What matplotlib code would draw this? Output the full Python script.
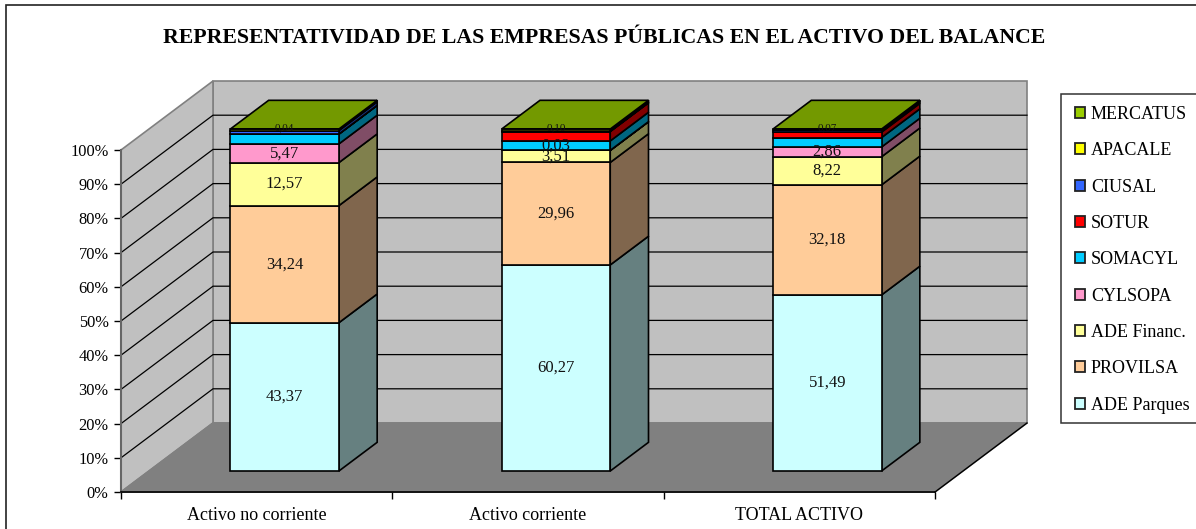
import matplotlib
matplotlib.use("Agg")
import matplotlib.pyplot as plt
from matplotlib.colors import to_rgb
from matplotlib.patches import Polygon, Rectangle

plt.rcParams['font.family'] = ['Liberation Serif', 'DejaVu Serif']

title = 'REPRESENTATIVIDAD DE LAS EMPRESAS PÚBLICAS EN EL ACTIVO DEL BALANCE'
categories = ['Activo no corriente', 'Activo corriente', 'TOTAL ACTIVO']
series_names = ['ADE Parques', 'PROVILSA', 'ADE Financ.', 'CYLSOPA', 'SOMACYL',
                'SOTUR', 'CIUSAL', 'APACALE', 'MERCATUS']

ade_parques = [43.37, 60.27, 51.49]
provilsa = [34.24, 29.96, 32.18]
ade_financ = [12.57, 3.51, 8.22]
cylsopa = [5.47, 0.03, 2.86]
somacyl = [2.85, 2.75, 2.75]
sotur = [0.05, 2.75, 1.60]
ciusal = [1.00, 0.10, 0.50]
apacale = [0.41, 0.53, 0.33]
mercatus = [0.04, 0.10, 0.07]
series_values = [ade_parques, provilsa, ade_financ, cylsopa, somacyl,
                 sotur, ciusal, apacale, mercatus]
series_colors = ['#CCFFFF', '#FFCC99', '#FFFF99', '#FF99CC', '#00CCFF',
                 '#FF0000', '#3366FF', '#FFFF00', '#99CC00']
labelled = ['ADE Parques', 'PROVILSA', 'ADE Financ.', 'CYLSOPA', 'MERCATUS']

W, H = 1196, 529
# front plane of the 3D box, in pixels
LEFT, RIGHT, BOTTOM, TOP = 121, 935, 492, 150
DEPTH_X = 92 / ((RIGHT - LEFT) / 3)   # category units for the full floor depth
DEPTH_Y = 69 / ((BOTTOM - TOP) / 100)  # percent units for the full floor depth
BAR_W = 0.40
BAR_D0, BAR_D1 = 0.304, 0.72


def pt(x, v, d):
    """Oblique projection of (category position, percent, depth)"""
    return (x + d * DEPTH_X, v + d * DEPTH_Y)


def shade(color, k):
    return tuple(c * k for c in to_rgb(color))


fig = plt.figure(figsize=(W / 100, H / 100), dpi=100)
# chart frame, only its left and top edges fall inside the picture
fig.add_artist(Rectangle((5.5 / W, -0.1), 1.2, 1.1 - 5 / H, transform=fig.transFigure,
                         fill=False, ec='#222222', lw=1.2))
# legend frame, its right edge falls outside as well
fig.add_artist(Rectangle((1061 / W, 1 - 423 / H), 0.2, 329 / H, transform=fig.transFigure,
                         fc='white', ec='#333333', lw=1.1))
ax = fig.add_axes([LEFT / W, 1 - BOTTOM / H, (RIGHT - LEFT) / W, (BOTTOM - TOP) / H])
ax.set_xlim(0, 3)
ax.set_ylim(0, 100)
ax.patch.set_visible(False)
for side in ['top', 'right']:
    ax.spines[side].set_visible(False)
ax.spines['left'].set_color('#666666')
ax.spines['left'].set_linewidth(1.5)
ax.spines['bottom'].set_color('black')
ax.spines['bottom'].set_linewidth(1.2)

# walls and floor
wall_kw = dict(clip_on=False, ec='#808080', lw=1.2, zorder=1)
ax.add_patch(Polygon([pt(0, 0, 1), pt(3, 0, 1), pt(3, 100, 1), pt(0, 100, 1)], fc='#C0C0C0', **wall_kw))
ax.add_patch(Polygon([pt(0, 0, 0), pt(0, 0, 1), pt(0, 100, 1), pt(0, 100, 0)], fc='#C0C0C0', **wall_kw))
ax.add_patch(Polygon([pt(0, 0, 0), pt(3, 0, 0), pt(3, 0, 1), pt(0, 0, 1)], fc='#808080', **wall_kw))
ax.plot(*zip(pt(3, 0, 0), pt(3, 0, 1)), color='black', lw=1.0, clip_on=False, zorder=1.4)
for v in range(10, 100, 10):
    p0, p1, p2 = pt(0, v, 0), pt(0, v, 1), pt(3, v, 1)
    ax.plot([p0[0], p1[0], p2[0]], [p0[1], p1[1], p2[1]], color='black', lw=0.9,
            clip_on=False, zorder=1.5)

# stacked bars
centers = [i + 0.5 for i in range(len(categories))]
bottoms = [0.0] * len(categories)
handles = []
for name, vals, col in zip(series_names, series_values, series_colors):
    lefts = [pt(c - BAR_W / 2, 0, BAR_D0)[0] for c in centers]
    bases = [pt(0, b, BAR_D0)[1] for b in bottoms]
    bars = ax.bar(lefts, vals, BAR_W, bottom=bases, align='edge', color=col,
                  edgecolor='black', linewidth=1.2, clip_on=False, zorder=4, label=name)
    handles.append(bars)
    for c, b, v in zip(centers, bottoms, vals):
        x1 = c + BAR_W / 2
        side = [pt(x1, b, BAR_D0), pt(x1, b, BAR_D1), pt(x1, b + v, BAR_D1), pt(x1, b + v, BAR_D0)]
        ax.add_patch(Polygon(side, fc=shade(col, 0.5), ec='black', lw=1.2, clip_on=False, zorder=3))
        if name == 'MERCATUS':
            x0 = c - BAR_W / 2
            top = [pt(x0, b + v, BAR_D0), pt(x1, b + v, BAR_D0), pt(x1, b + v, BAR_D1), pt(x0, b + v, BAR_D1)]
            ax.add_patch(Polygon(top, fc=shade(col, 0.75), ec='black', lw=1.2, clip_on=False, zorder=3))
        if name in labelled:
            small = name == 'MERCATUS'
            tx, ty = pt(c, b + v / 2, BAR_D0)
            if small:
                ty += 0.3
            elif v < 0.1:
                ty += 1.3  # this label sits a little above its thin band
            ax.text(tx, ty, f'{v:.2f}'.replace('.', ','), ha='center', va='center',
                    fontsize=8 if small else 12, color='#111111', zorder=6, clip_on=False)
    bottoms = [b + v for b, v in zip(bottoms, vals)]

# axes
ax.set_yticks(range(0, 101, 10))
ax.set_yticklabels([f'{v}%' for v in range(0, 101, 10)], fontsize=11.8)
ax.set_xticks(range(4))
ax.set_xticklabels([])
ax.set_xticks(centers, minor=True)
ax.set_xticklabels(categories, minor=True, fontsize=13)
ax.tick_params(axis='x', which='minor', length=0, pad=11)
ax.tick_params(axis='x', which='major', length=5, width=1)
ax.tick_params(axis='y', length=5, width=1, pad=4)

ax.text(604 / W, 1 - 38 / H, title, transform=fig.transFigure, ha='center', va='center',
        fontsize=15.7, fontweight='bold')

leg = fig.legend(handles[::-1], series_names[::-1], loc='upper left',
                 bbox_to_anchor=(1075 / W, 1 - 106 / H), bbox_transform=fig.transFigure,
                 borderaxespad=0, fontsize=13, frameon=False, labelspacing=1.07,
                 handlelength=0.55, handleheight=0.55, handletextpad=0.33,
                 borderpad=0)
for patch in leg.get_patches():
    patch.set_linewidth(1.3)
    patch.set_edgecolor('#222222')

fig.savefig('out.png', dpi=100)
